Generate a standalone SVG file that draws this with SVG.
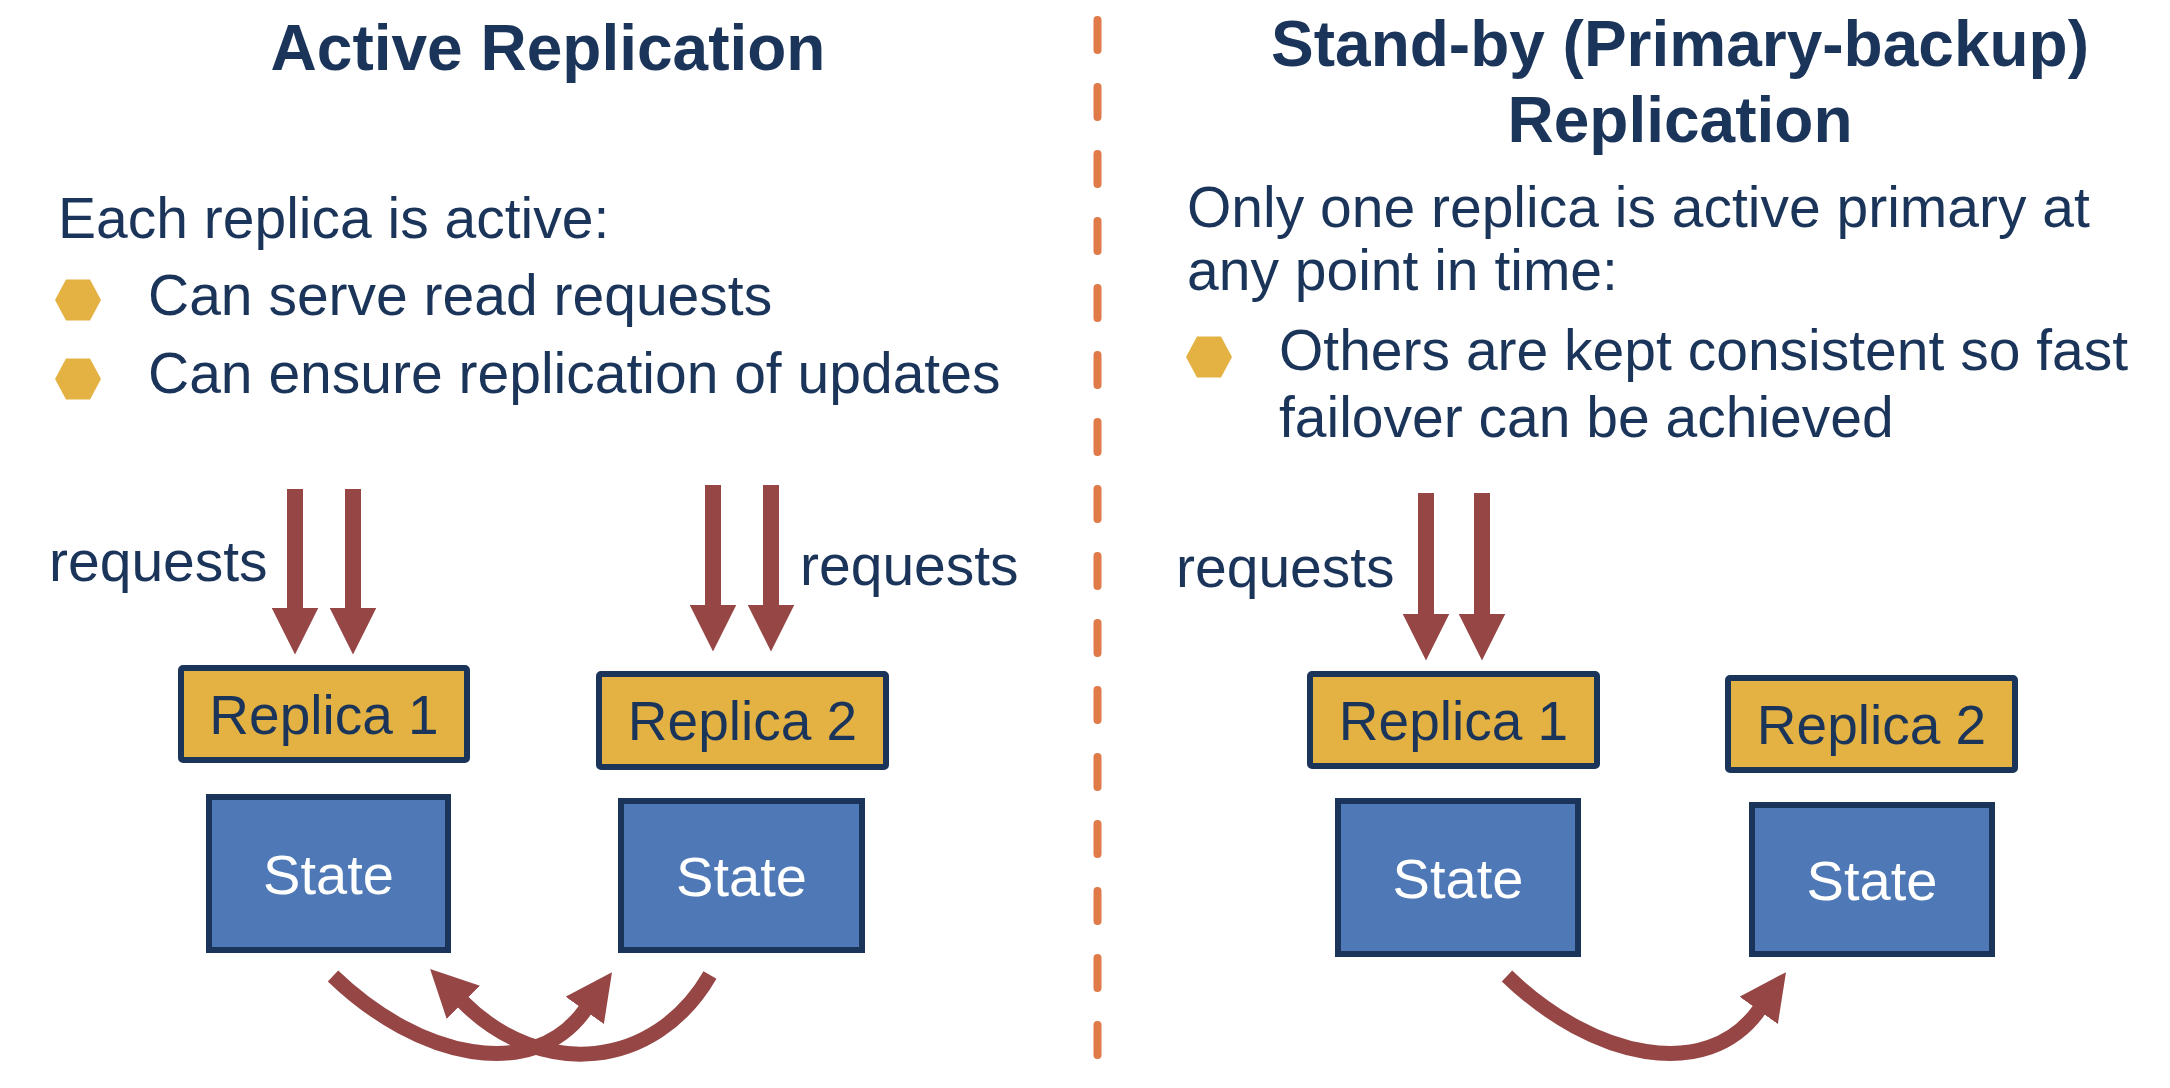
<svg xmlns="http://www.w3.org/2000/svg" width="2170" height="1088" viewBox="0 0 2170 1088">
  <style>
    .title { font-family: "Liberation Sans", Arial, sans-serif; font-weight: bold; font-size: 64px; fill: #1B355A; text-anchor: middle; }
    .body { font-family: "Liberation Sans", Arial, sans-serif; font-size: 57px; fill: #1B355A; }
    .rep rect { fill: #E4B243; stroke: #1B355A; stroke-width: 6; }
    .rep text { font-family: "Liberation Sans", Arial, sans-serif; font-size: 55px; fill: #1B355A; text-anchor: middle; }
    .state rect { fill: #4E78B6; stroke: #1B355A; stroke-width: 6; }
    .state text { font-family: "Liberation Sans", Arial, sans-serif; font-size: 56px; fill: #FFFFFF; text-anchor: middle; }
    .hex { fill: #E4B243; }
    .req { fill: none; stroke: #954645; stroke-width: 16; marker-end: url(#head); }
    .arc { fill: none; stroke: #954645; stroke-width: 15; marker-end: url(#head); }
    .divider { stroke: #E07A48; stroke-width: 8; stroke-linecap: round; stroke-dasharray: 30 37; }
  </style>
  <defs>
    <marker id="head" markerUnits="userSpaceOnUse" viewBox="0 0 47 47" markerWidth="47" markerHeight="47" refX="0.5" refY="23.5" orient="auto">
      <path d="M0,0 L47,23.5 L0,47 Z" fill="#954645"/>
    </marker>
    <polygon id="hexShape" points="-23,0 -12,-20.5 12,-20.5 23,0 12,20.5 -12,20.5"/>
  </defs>
  <rect width="2170" height="1088" fill="#FFFFFF"/>

  <line class="divider" x1="1097.5" y1="20" x2="1097.5" y2="1056"/>

  <g id="left-text">
    <text class="title" x="548" y="70">Active Replication</text>
    <text class="body" x="58" y="238">Each replica is active:</text>
    <use href="#hexShape" class="hex" x="78" y="300"/>
    <text class="body" x="148" y="315">Can serve read requests</text>
    <use href="#hexShape" class="hex" x="78" y="379"/>
    <text class="body" x="148" y="393">Can ensure replication of updates</text>
    <text class="body" x="49" y="581">requests</text>
    <text class="body" x="800" y="585">requests</text>
  </g>

  <g id="right-text">
    <text class="title" x="1680" y="66">Stand-by (Primary-backup)</text>
    <text class="title" x="1680" y="142">Replication</text>
    <text class="body" x="1187" y="227">Only one replica is active primary at</text>
    <text class="body" x="1187" y="290">any point in time:</text>
    <use href="#hexShape" class="hex" x="1209" y="357"/>
    <text class="body" x="1279" y="370">Others are kept consistent so fast</text>
    <text class="body" x="1279" y="437">failover can be achieved</text>
    <text class="body" x="1176" y="587">requests</text>
  </g>

  <g id="a-replica1" class="rep">
    <rect x="181" y="668" width="286" height="92" rx="2"/>
    <text x="324" y="734">Replica 1</text>
  </g>
  <g id="a-replica2" class="rep">
    <rect x="599" y="674" width="287" height="93" rx="2"/>
    <text x="742.5" y="740">Replica 2</text>
  </g>
  <g id="a-state1" class="state">
    <rect x="209" y="797" width="239" height="153"/>
    <text x="328.5" y="894">State</text>
  </g>
  <g id="a-state2" class="state">
    <rect x="621" y="801" width="241" height="149"/>
    <text x="741.5" y="896">State</text>
  </g>

  <g id="s-replica1" class="rep">
    <rect x="1310" y="674" width="287" height="92" rx="2"/>
    <text x="1453.5" y="740">Replica 1</text>
  </g>
  <g id="s-replica2" class="rep">
    <rect x="1728" y="678" width="287" height="92" rx="2"/>
    <text x="1871.5" y="744">Replica 2</text>
  </g>
  <g id="s-state1" class="state">
    <rect x="1338" y="801" width="240" height="153"/>
    <text x="1458" y="898">State</text>
  </g>
  <g id="s-state2" class="state">
    <rect x="1752" y="805" width="240" height="149"/>
    <text x="1872" y="900">State</text>
  </g>

  <g id="connectors">
    <line class="req" x1="295" y1="489" x2="295" y2="608"/>
    <line class="req" x1="353" y1="489" x2="353" y2="608"/>
    <line class="req" x1="713" y1="485" x2="713" y2="605"/>
    <line class="req" x1="771" y1="485" x2="771" y2="605"/>
    <line class="req" x1="1426" y1="493" x2="1426" y2="614"/>
    <line class="req" x1="1482" y1="493" x2="1482" y2="614"/>
    <path class="arc" d="M333,976 C419,1059 533,1083 585,1010"/>
    <path class="arc" d="M710,975 C655,1070 541,1080 463,1002"/>
    <path class="arc" d="M1507,976 C1593,1059 1707,1083 1759,1010"/>
  </g>
</svg>
